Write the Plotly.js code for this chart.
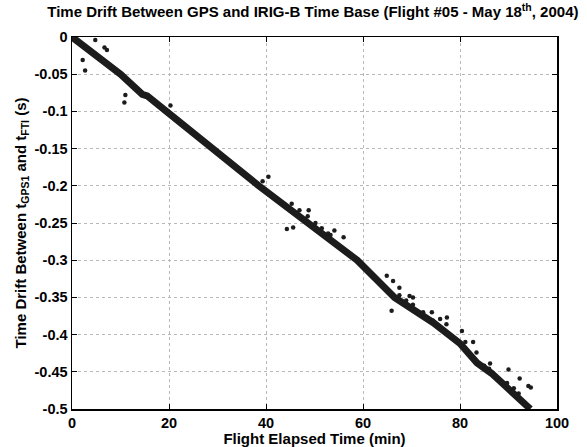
<!DOCTYPE html>
<html>
<head>
<meta charset="utf-8">
<script src="https://cdn.plot.ly/plotly-3.0.1.min.js"></script>
<style>html,body{margin:0;padding:0;background:#fff;}#chart{width:587px;height:447px;}</style>
</head>
<body>
<div id="chart"></div>
<script>
// Main drift trace (dense band), vertices
const bandX = [0, 5, 10, 13, 14.5, 15.5, 17, 19.5, 38.5, 48.5, 58.8, 66.5, 74.5, 80, 83.5, 86.5, 90, 94.5];
const bandY = [0, -0.025, -0.05, -0.068, -0.077, -0.079, -0.088, -0.1, -0.2, -0.25, -0.3, -0.35, -0.384, -0.412, -0.438, -0.452, -0.472, -0.5];

// Scattered outlier samples
const outX = [2.2, 2.7, 4.8, 6.7, 7.2, 10.8, 11.0, 20.3, 39.3, 40.5, 44.3, 45.3, 45.6, 46.9, 48.6, 48.8, 50.2, 51.5, 52.8, 53.3, 54.1, 56.0, 64.9, 65.9, 66.2, 67.5, 67.5, 68.9, 69.6, 70.3, 70.3, 72.4, 74.2, 74.4, 75.9, 77.2, 77.3, 80.4, 81.1, 82.7, 83.4, 85.0, 86.0, 86.2, 89.7, 90.0, 91.1, 92.1, 92.3, 94.1, 94.6];
const outY = [-0.031, -0.045, -0.004, -0.014, -0.0175, -0.088, -0.078, -0.092, -0.194, -0.188, -0.258, -0.224, -0.256, -0.233, -0.241, -0.233, -0.250, -0.257, -0.264, -0.266, -0.260, -0.269, -0.321, -0.368, -0.328, -0.337, -0.347, -0.354, -0.348, -0.350, -0.360, -0.370, -0.370, -0.381, -0.379, -0.386, -0.377, -0.395, -0.410, -0.410, -0.424, -0.442, -0.446, -0.439, -0.465, -0.447, -0.472, -0.479, -0.459, -0.469, -0.471];

const xTicks = [0, 20, 40, 60, 80, 100];
const xTickText = ["0", "20", "40", "60", "80", "100"];
const yTicks = [0, -0.05, -0.1, -0.15, -0.2, -0.25, -0.3, -0.35, -0.4, -0.45, -0.5];
const yTickText = ["0", "-0.05", "-0.1", "-0.15", "-0.2", "-0.25", "-0.3", "-0.35", "-0.4", "-0.45", "-0.5"];

const FONT = "Liberation Sans, Arial, sans-serif";

const traces = [
  {x: bandX, y: bandY, type: "scatter", mode: "lines",
   line: {color: "#1c1c1c", width: 7}, hoverinfo: "none"},
  {x: outX, y: outY, type: "scatter", mode: "markers",
   marker: {color: "#1c1c1c", size: 4.5}, hoverinfo: "none"}
];

const axisCommon = {
  showline: true, linecolor: "#000", linewidth: 1.5, mirror: "ticks",
  ticks: "inside", ticklen: 5, tickcolor: "#000", tickwidth: 1,
  showgrid: true, gridcolor: "#b8b8b8", griddash: "dot", gridwidth: 1,
  zeroline: false, tickmode: "array",
  tickfont: {family: FONT, size: 14.5, color: "#000", weight: "bold"}
};

const layout = {
  width: 587, height: 447,
  margin: {l: 72, r: 30, t: 37, b: 38},
  paper_bgcolor: "#fff", plot_bgcolor: "#fff",
  showlegend: false,
  title: {text: "<b>Time Drift Between GPS and IRIG-B Time Base (Flight #05 - May 18<sup>th</sup>, 2004)</b>",
          font: {family: FONT, size: 15, color: "#000"}, x: 0.533, xanchor: "center", y: 0.985, yanchor: "top"},
  xaxis: Object.assign({}, axisCommon, {
    range: [0, 100], tickvals: xTicks, ticktext: xTickText,
    title: {text: "<b>Flight Elapsed Time (min)</b>", font: {family: FONT, size: 15, color: "#000"}, standoff: 0}
  }),
  yaxis: Object.assign({}, axisCommon, {
    range: [-0.5, 0], tickvals: yTicks, ticktext: yTickText,
    title: {text: "<b>Time Drift Between t<sub>GPS1</sub> and t<sub>FTI</sub> (s)</b>", font: {family: FONT, size: 15, color: "#000"}, standoff: 4}
  })
};

Plotly.newPlot("chart", traces, layout, {staticPlot: true, displayModeBar: false});
</script>
</body>
</html>
